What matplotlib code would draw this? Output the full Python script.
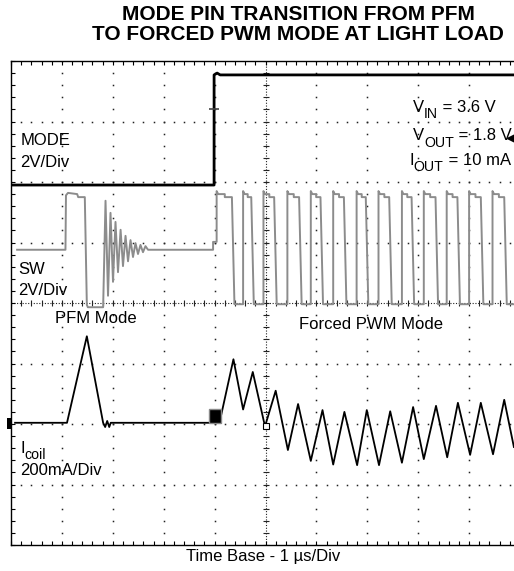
import numpy as np
import matplotlib
matplotlib.use('Agg')
import matplotlib.pyplot as plt
from matplotlib.patches import Rectangle
from matplotlib.transforms import offset_copy

plt.rcParams['font.family'] = ['Liberation Sans', 'DejaVu Sans']

# time in us (1 us/div), traces in screen divisions (0..8 from bottom)
mode_t = [0.0, 3.99, 3.99, 4.05, 4.11, 9.88]
mode_v = [5.95, 5.95, 7.77, 7.80, 7.77, 7.77]

sw_pfm_t = [0.12, 1.07, 1.08, 1.12, 1.30, 1.32, 1.45, 1.49, 1.51, 1.81]
sw_pfm_v = [4.88, 4.88, 5.78, 5.82, 5.80, 5.75, 5.75, 3.97, 3.93, 3.93]
ring_t = [1.857, 1.906, 1.955, 2.004, 2.053, 2.102, 2.153, 2.200, 2.250,
          2.299, 2.348, 2.397, 2.446, 2.495, 2.544, 2.593, 2.642, 2.692,
          3.97, 3.97, 4.04]
ring_v = [5.69, 4.12, 5.49, 4.35, 5.34, 4.51, 5.21, 4.61, 5.11,
          4.69, 5.04, 4.76, 4.99, 4.81, 4.96, 4.84, 4.94, 4.88,
          4.88, 5.01, 5.01]
pwm_rise = [4.04, 4.56, 4.96, 5.43, 5.89, 6.33, 6.79, 7.22, 7.68, 8.11, 8.56, 9.00, 9.46]
pwm_fall = [4.36, 4.74, 5.19, 5.68, 6.10, 6.56, 6.99, 7.45, 7.89, 8.36, 8.79, 9.25, 9.71]
pwm_high = 5.78
pwm_peak = 5.85
pwm_low = 3.98

icoil_t = [0.08, 1.10, 1.49, 1.81, 1.85, 1.89, 1.93, 1.96, 3.89, 4.13,
           4.37, 4.56, 4.75, 4.99, 5.20, 5.44, 5.64, 5.89, 6.12, 6.33,
           6.55, 6.80, 6.99, 7.23, 7.45, 7.68, 7.90, 8.11, 8.35, 8.57,
           8.78, 9.02, 9.23, 9.47, 9.69, 9.88]
icoil_v = [2.02, 2.02, 3.45, 2.02, 1.95, 2.05, 1.95, 2.02, 2.02, 2.15,
           3.07, 2.24, 2.86, 1.96, 2.55, 1.57, 2.33, 1.39, 2.23, 1.33,
           2.20, 1.32, 2.23, 1.32, 2.21, 1.36, 2.28, 1.42, 2.30, 1.45,
           2.35, 1.49, 2.35, 1.50, 2.40, 1.62]

# build the switch node trace
sw_t = list(sw_pfm_t) + ring_t
sw_v = list(sw_pfm_v) + ring_v
for r, f in zip(pwm_rise, pwm_fall):
    mid = (r + f) / 2
    if sw_t[-1] < r:
        sw_t.append(r)
        sw_v.append(sw_v[-1])
    sw_t += [r, r + 0.03, mid, mid, f - 0.02, f + 0.03]
    sw_v += [pwm_peak, pwm_high + 0.02, pwm_high + 0.02, pwm_high - 0.03, pwm_high - 0.03, pwm_low]
sw_t.append(9.88)
sw_v.append(pwm_low)

fig = plt.figure(figsize=(5.14, 5.71), dpi=100)
ax = fig.add_axes([11 / 514, 26 / 571, 509 / 514, 484 / 571])
ax.set_xlim(0, 10)
ax.set_ylim(0, 8)

# dotted graticule
minor = np.arange(0, 10.01, 0.2)
minor_y = np.arange(0, 8.01, 0.2)
for gx in range(1, 10):
    if gx == 5:
        continue
    ax.plot(np.full_like(minor_y, gx), minor_y, ls='none', marker='s',
            ms=1.1, color='#222222', mew=0, zorder=1)
for gy in range(1, 8):
    if gy == 4:
        continue
    ax.plot(minor, np.full_like(minor, gy), ls='none', marker='s',
            ms=1.1, color='#222222', mew=0, zorder=1)
# centre axes with ticks
ax.axvline(5, color='#222222', lw=0.8, ls=(0, (1, 1.5)), zorder=1)
ax.axhline(4, color='#222222', lw=0.8, ls=(0, (1, 1.5)), zorder=1)
ax.plot(minor, np.full_like(minor, 4), ls='none', marker='|', ms=4,
        color='#222222', mew=0.8, zorder=1)
ax.plot(np.full_like(minor_y, 5), minor_y, ls='none', marker='_', ms=4,
        color='#222222', mew=0.8, zorder=1)

ax.set_xticks(minor)
ax.set_yticks(minor_y)
ax.tick_params(axis='both', direction='in', length=3, width=0.8,
               top=True, bottom=True, left=True, right=False,
               labelbottom=False, labelleft=False)
for s in ['top', 'bottom', 'left']:
    ax.spines[s].set_linewidth(1.0)
ax.spines['right'].set_visible(False)

# traces
ax.plot(sw_t, sw_v, color='#8c8c8c', lw=1.4, zorder=3)
ax.plot(icoil_t, icoil_v, color='black', lw=1.3, zorder=4)
ax.plot(mode_t, mode_v, color='black', lw=2.0, zorder=4)

# trigger / channel markers
ax.plot([3.99], [7.21], marker='_', ms=7, mew=1.2, color='#444444', zorder=5)
ax.add_patch(Rectangle((3.89, 2.02), 0.24, 0.22, facecolor='black',
                       edgecolor='#888888', lw=1, zorder=5))
ax.add_patch(Rectangle((-0.07, 1.92), 0.07, 0.18, facecolor='black',
                       edgecolor='none', clip_on=False, zorder=5))
ax.plot([9.83], [6.73], marker='<', ms=6, color='black', zorder=5, clip_on=False)
ax.plot([5.0], [1.96], marker='s', ms=4, mfc='white', mec='black', mew=0.8, zorder=6)

fs = 12
ax.text(0.18, 6.61, 'MODE', fontsize=fs)
ax.text(0.18, 6.25, '2V/Div', fontsize=fs)
ax.text(0.14, 4.48, 'SW', fontsize=fs)
ax.text(0.14, 4.13, '2V/Div', fontsize=fs)
ax.text(0.86, 3.67, 'PFM Mode', fontsize=fs)
ax.text(5.66, 3.57, 'Forced PWM Mode', fontsize=fs)
ax.text(0.18, 1.16, '200mA/Div', fontsize=fs)

fig.canvas.draw()
renderer = fig.canvas.get_renderer()


def sub_text(x, y, main, sub, rest=''):
    # main letter, dropped subscript, then the rest of the line
    t = ax.text(x, y, main, fontsize=fs)
    w = t.get_window_extent(renderer).width
    tr = offset_copy(ax.transData, fig=fig, x=w * 72 / fig.dpi, y=-4.5, units='points')
    s = ax.text(x, y, sub, fontsize=fs * 0.85, transform=tr)
    if rest:
        w2 = s.get_window_extent(renderer).width
        tr2 = offset_copy(ax.transData, fig=fig, x=(w + w2) * 72 / fig.dpi, y=0, units='points')
        ax.text(x, y, rest, fontsize=fs, transform=tr2)


sub_text(0.18, 1.52, 'I', 'coil')
sub_text(7.90, 7.16, 'V', 'IN', ' = 3.6 V')
sub_text(7.90, 6.69, 'V', 'OUT', ' = 1.8 V')
sub_text(7.82, 6.28, 'I', 'OUT', ' = 10 mA')

fig.text(298 / 514, 1 - 14 / 571, 'MODE PIN TRANSITION FROM PFM',
         ha='center', va='center', fontsize=15, fontweight='bold')
fig.text(298 / 514, 1 - 34 / 571, 'TO FORCED PWM MODE AT LIGHT LOAD',
         ha='center', va='center', fontsize=15, fontweight='bold')
fig.text(263 / 514, 1 - 557 / 571, 'Time Base - 1 \u00b5s/Div',
         ha='center', va='center', fontsize=12)

fig.savefig('out.png', dpi=100)
